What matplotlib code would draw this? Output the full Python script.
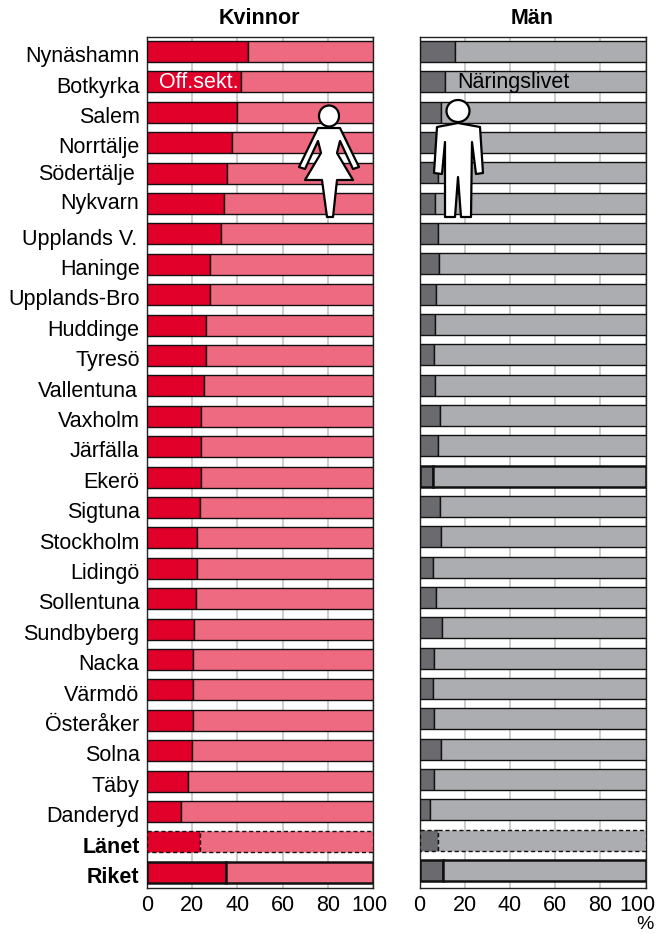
# -*- coding: utf-8 -*-

import matplotlib
matplotlib.use('Agg')
import numpy as np
import matplotlib.pyplot as plt
from matplotlib.patches import Polygon, Ellipse
from matplotlib.transforms import ScaledTranslation

plt.rcParams['font.family'] = ['Liberation Sans', 'DejaVu Sans']

W, H = 657, 933

# Data ------------------------------------------------------------------------

kommuner = ['Nynäshamn', 'Botkyrka', 'Salem', 'Norrtälje', 'Södertälje',
            'Nykvarn', 'Upplands V.', 'Haninge', 'Upplands-Bro', 'Huddinge',
            'Tyresö', 'Vallentuna', 'Vaxholm', 'Järfälla', 'Ekerö', 'Sigtuna',
            'Stockholm', 'Lidingö', 'Sollentuna', 'Sundbyberg', 'Nacka',
            'Värmdö', 'Österåker', 'Solna', 'Täby', 'Danderyd', 'Länet',
            'Riket']
kvinnor = [44.7, 41.5, 39.7, 37.8, 35.4, 34, 32.7, 28, 28, 26, 26, 25, 24, 24,
           24, 23.5, 22, 22, 21.5, 21, 20.5, 20.5, 20.5, 20, 18, 15, 23.5, 35]
man = [15.9, 11.3, 9.4, 9, 8, 6.9, 8.1, 8.5, 7.5, 7, 6.5, 7, 9, 8, 6, 9, 9.5,
       6, 7.5, 10, 6.5, 6, 6.5, 9.5, 6.5, 4.5, 8, 10.4]
xticks = [0, 20, 40, 60, 80, 100]

# Colours ---------------------------------------------------------------------

c_women = ['#e0002a', '#ee6a80']
c_men = ['#6b6a6f', '#acadb0']


def fx(px):
    return px / W


def fy(py):
    return 1 - py / H


def panel(x0, x1, title, values, cols, step, heavy, last_shift):
    top, bottom = 36.5, 887.5
    ax = f.add_axes([fx(x0), fy(bottom), fx(x1 - x0), (bottom - top) / H])
    # y axis runs in pixels below the top of the axes, bars are 21 px high
    ax.set_ylim(bottom - top, 0)
    ax.set_xlim(0, 100)
    y = 15 + step * np.arange(len(values))
    rest = 100 - np.array(values)
    for i in range(len(values)):
        lw = 1.0
        ls = '-'
        if i == len(values) - 2:
            ls = (0, (3, 2))
        if i in heavy:
            lw = 1.8
        ax.barh(y[i], values[i], 21, color=cols[0], edgecolor='#111111',
                linewidth=lw, linestyle=ls, zorder=3)
        ax.barh(y[i], rest[i], 21, left=values[i], color=cols[1],
                edgecolor='#111111', linewidth=lw, linestyle=ls, zorder=3)
    ax.set_xticks(xticks)
    ax.tick_params(axis='x', length=0, labelsize=15.5, pad=5.5)
    ax.set_yticks([])
    ax.grid(axis='x', color='#c4c4c4', lw=1.2, zorder=0)
    ax.set_axisbelow(True)
    for s in ax.spines.values():
        s.set_linewidth(1.0)
        s.set_color('#222222')
    # the 100 label is pulled in from the axis end
    lab = ax.get_xticklabels()[-1]
    lab.set_transform(lab.get_transform()
                      + ScaledTranslation(last_shift / 100, 0, f.dpi_scale_trans))
    f.text(fx((x0 + x1) / 2 - 0.5), fy(19), title, fontsize=15.5,
           fontweight='bold', ha='center', va='center')
    return ax, y


def figur(points, head):
    pts = [(fx(a), fy(b)) for a, b in points]
    f.add_artist(Polygon(pts, closed=True, fc='white', ec='black', lw=1.6,
                         joinstyle='round', transform=f.transFigure,
                         zorder=10))
    f.add_artist(Ellipse((fx(head[0]), fy(head[1])), head[2] * 2 / W,
                         head[3] * 2 / H, fc='white', ec='black', lw=1.6,
                         transform=f.transFigure, zorder=10))


# Figure ----------------------------------------------------------------------

f = plt.figure(figsize=(W / 100, H / 100), dpi=100)

ax1, y1 = panel(147, 373, 'Kvinnor', kvinnor, c_women, 30.4, [27], -3.5)
ax2, y2 = panel(419.5, 645.5, 'Män', man, c_men, 30.33, [14, 27], -8.5)

# a few names sit off the row in the original
dy_namn = {'Södertälje': -3.4, 'Nykvarn': -4.8}
dx_namn = {'Södertälje': -4.5, 'Upplands V.': -2.5, 'Vallentuna': -1.5}

for i, namn in enumerate(kommuner):
    bold = namn in ('Länet', 'Riket')
    base = 36.5 + y1[i] + 3 + 7.7 + dy_namn.get(namn, 0)
    f.text(fx(139.5 + dx_namn.get(namn, 0)), fy(base), namn, fontsize=15.5,
           ha='right', va='baseline', fontweight='bold' if bold else 'normal')

ax1.text(22.8, y1[1] + 0.5, 'Off.sekt.', color='white', fontsize=15.5,
         ha='center', va='center', zorder=5)
ax2.text(41.4, y2[1] + 0.5, 'Näringslivet', color='black', fontsize=15.5,
         ha='center', va='center', zorder=5)
f.text(fx(645), fy(929), '%', fontsize=14, ha='center', va='baseline')

# Pictograms ------------------------------------------------------------------

kvinna = [(318, 128), (340, 128), (359, 167), (353, 169), (340, 141),
          (337, 153), (353, 180), (337, 180), (333, 217), (327, 217),
          (322, 180), (305, 180), (321, 153), (318, 141), (305, 169),
          (299, 167)]
man_fig = [(437, 127), (458, 123), (480, 127), (483, 173), (476, 174),
           (472, 142), (471, 217), (461, 217), (458, 177), (455, 217),
           (445, 217), (445, 142), (442, 174), (434, 173)]
figur(kvinna, (329, 116, 10, 10.5))
figur(man_fig, (458, 111, 11.5, 11))

f.savefig('out.png', dpi=100)
